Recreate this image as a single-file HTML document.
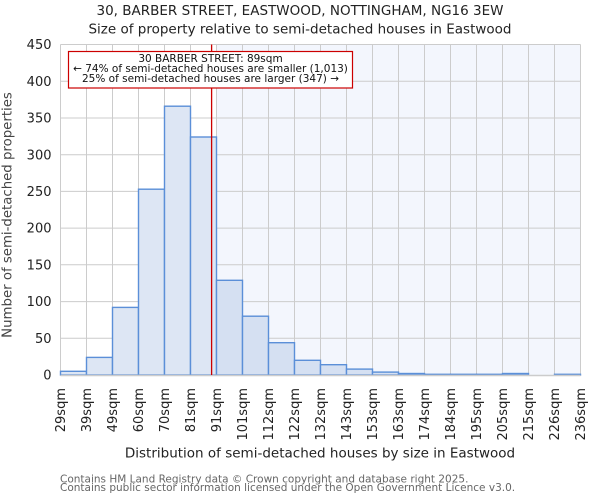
<!DOCTYPE html>
<html>
<head>
<meta charset="utf-8">
<style>
html,body{margin:0;padding:0;background:#fff;}
svg{display:block;}
text{font-family:"DejaVu Sans","Liberation Sans",sans-serif;}
</style>
</head>
<body>
<svg width="600" height="500" viewBox="0 0 600 500" xmlns="http://www.w3.org/2000/svg">
<rect x="0" y="0" width="600" height="500" fill="#ffffff"/>
<!-- shaded region -->
<rect x="216.5" y="44.5" width="364" height="330.5" fill="#f3f6fd"/>
<!-- grid -->
<g stroke="#cccccc" stroke-width="1">
<line x1="60.5" y1="338.3" x2="580.5" y2="338.3"/>
<line x1="60.5" y1="301.6" x2="580.5" y2="301.6"/>
<line x1="60.5" y1="264.8" x2="580.5" y2="264.8"/>
<line x1="60.5" y1="228.1" x2="580.5" y2="228.1"/>
<line x1="60.5" y1="191.4" x2="580.5" y2="191.4"/>
<line x1="60.5" y1="154.7" x2="580.5" y2="154.7"/>
<line x1="60.5" y1="118.0" x2="580.5" y2="118.0"/>
<line x1="60.5" y1="81.2" x2="580.5" y2="81.2"/>
<line x1="60.5" y1="44.5" x2="580.5" y2="44.5"/>
<line x1="60.5" y1="44.5" x2="60.5" y2="375"/>
<line x1="86.5" y1="44.5" x2="86.5" y2="375"/>
<line x1="112.5" y1="44.5" x2="112.5" y2="375"/>
<line x1="138.5" y1="44.5" x2="138.5" y2="375"/>
<line x1="164.5" y1="44.5" x2="164.5" y2="375"/>
<line x1="190.5" y1="44.5" x2="190.5" y2="375"/>
<line x1="216.5" y1="44.5" x2="216.5" y2="375"/>
<line x1="242.5" y1="44.5" x2="242.5" y2="375"/>
<line x1="268.5" y1="44.5" x2="268.5" y2="375"/>
<line x1="294.5" y1="44.5" x2="294.5" y2="375"/>
<line x1="320.5" y1="44.5" x2="320.5" y2="375"/>
<line x1="346.5" y1="44.5" x2="346.5" y2="375"/>
<line x1="372.5" y1="44.5" x2="372.5" y2="375"/>
<line x1="398.5" y1="44.5" x2="398.5" y2="375"/>
<line x1="424.5" y1="44.5" x2="424.5" y2="375"/>
<line x1="450.5" y1="44.5" x2="450.5" y2="375"/>
<line x1="476.5" y1="44.5" x2="476.5" y2="375"/>
<line x1="502.5" y1="44.5" x2="502.5" y2="375"/>
<line x1="528.5" y1="44.5" x2="528.5" y2="375"/>
<line x1="554.5" y1="44.5" x2="554.5" y2="375"/>
<line x1="580.5" y1="44.5" x2="580.5" y2="375"/>
</g>
<!-- bars -->
<g stroke="#5b8fd8" stroke-width="1.4">
<rect x="60.5" y="371.3" width="26" height="3.7" fill="#dde6f4"/>
<rect x="86.5" y="357.4" width="26" height="17.6" fill="#dde6f4"/>
<rect x="112.5" y="307.4" width="26" height="67.6" fill="#dde6f4"/>
<rect x="138.5" y="189.2" width="26" height="185.8" fill="#dde6f4"/>
<rect x="164.5" y="106.2" width="26" height="268.8" fill="#dde6f4"/>
<rect x="190.5" y="137.0" width="26" height="238.0" fill="#dde6f4"/>
<rect x="216.5" y="280.3" width="26" height="94.7" fill="#d5e0f2"/>
<rect x="242.5" y="316.2" width="26" height="58.8" fill="#d5e0f2"/>
<rect x="268.5" y="342.7" width="26" height="32.3" fill="#d5e0f2"/>
<rect x="294.5" y="360.3" width="26" height="14.7" fill="#d5e0f2"/>
<rect x="320.5" y="364.7" width="26" height="10.3" fill="#d5e0f2"/>
<rect x="346.5" y="369.1" width="26" height="5.9" fill="#d5e0f2"/>
<rect x="372.5" y="372.1" width="26" height="2.9" fill="#d5e0f2"/>
<rect x="398.5" y="373.5" width="26" height="1.5" fill="#d5e0f2"/>
<rect x="424.5" y="374.3" width="26" height="0.7" fill="#d5e0f2"/>
<rect x="450.5" y="374.3" width="26" height="0.7" fill="#d5e0f2"/>
<rect x="476.5" y="374.3" width="26" height="0.7" fill="#d5e0f2"/>
<rect x="502.5" y="373.5" width="26" height="1.5" fill="#d5e0f2"/>
<rect x="554.5" y="374.3" width="26" height="0.7" fill="#d5e0f2"/>
</g>
<!-- bottom axis -->
<line x1="60.5" y1="375.5" x2="580.5" y2="375.5" stroke="#cccccc" stroke-width="1.5"/>
<!-- red marker line -->
<line x1="211.6" y1="44.5" x2="211.6" y2="375" stroke="#cc0000" stroke-width="1.3"/>
<!-- annotation -->
<rect x="68.5" y="51.5" width="284" height="36.5" fill="#ffffff" stroke="#cc0000" stroke-width="1.2"/>
<g font-size="10.5" fill="#111" text-anchor="middle">
<text x="210.5" y="62">30 BARBER STREET: 89sqm</text>
<text x="210.5" y="72">← 74% of semi-detached houses are smaller (1,013)</text>
<text x="210.5" y="82">25% of semi-detached houses are larger (347) →</text>
</g>
<!-- y tick labels -->
<g font-size="13" fill="#222" text-anchor="end">
<text x="51.5" y="379.6">0</text>
<text x="51.5" y="342.9">50</text>
<text x="51.5" y="306.2">100</text>
<text x="51.5" y="269.4">150</text>
<text x="51.5" y="232.7">200</text>
<text x="51.5" y="196.0">250</text>
<text x="51.5" y="159.3">300</text>
<text x="51.5" y="122.6">350</text>
<text x="51.5" y="85.8">400</text>
<text x="51.5" y="49.1">450</text>
</g>
<!-- x tick labels -->
<g font-size="13" fill="#222" text-anchor="end">
<text transform="translate(60.5,388) rotate(-90)" dy="0.36em">29sqm</text>
<text transform="translate(86.5,388) rotate(-90)" dy="0.36em">39sqm</text>
<text transform="translate(112.5,388) rotate(-90)" dy="0.36em">49sqm</text>
<text transform="translate(138.5,388) rotate(-90)" dy="0.36em">60sqm</text>
<text transform="translate(164.5,388) rotate(-90)" dy="0.36em">70sqm</text>
<text transform="translate(190.5,388) rotate(-90)" dy="0.36em">81sqm</text>
<text transform="translate(216.5,388) rotate(-90)" dy="0.36em">91sqm</text>
<text transform="translate(242.5,388) rotate(-90)" dy="0.36em">101sqm</text>
<text transform="translate(268.5,388) rotate(-90)" dy="0.36em">112sqm</text>
<text transform="translate(294.5,388) rotate(-90)" dy="0.36em">122sqm</text>
<text transform="translate(320.5,388) rotate(-90)" dy="0.36em">132sqm</text>
<text transform="translate(346.5,388) rotate(-90)" dy="0.36em">143sqm</text>
<text transform="translate(372.5,388) rotate(-90)" dy="0.36em">153sqm</text>
<text transform="translate(398.5,388) rotate(-90)" dy="0.36em">163sqm</text>
<text transform="translate(424.5,388) rotate(-90)" dy="0.36em">174sqm</text>
<text transform="translate(450.5,388) rotate(-90)" dy="0.36em">184sqm</text>
<text transform="translate(476.5,388) rotate(-90)" dy="0.36em">195sqm</text>
<text transform="translate(502.5,388) rotate(-90)" dy="0.36em">205sqm</text>
<text transform="translate(528.5,388) rotate(-90)" dy="0.36em">215sqm</text>
<text transform="translate(554.5,388) rotate(-90)" dy="0.36em">226sqm</text>
<text transform="translate(580.5,388) rotate(-90)" dy="0.36em">236sqm</text>
</g>
<!-- axis labels -->
<text transform="translate(11.5,215) rotate(-90)" font-size="13.3" fill="#444" text-anchor="middle">Number of semi-detached properties</text>
<text x="320" y="457.5" font-size="13.5" fill="#222" text-anchor="middle">Distribution of semi-detached houses by size in Eastwood</text>
<!-- title -->
<text x="300" y="15" font-size="13.5" fill="#222" text-anchor="middle">30, BARBER STREET, EASTWOOD, NOTTINGHAM, NG16 3EW</text>
<text x="300" y="33.5" font-size="13.5" fill="#222" text-anchor="middle">Size of property relative to semi-detached houses in Eastwood</text>
<!-- footer -->
<g font-size="10.5" fill="#666">
<text x="60" y="482.5">Contains HM Land Registry data © Crown copyright and database right 2025.</text>
<text x="60" y="491">Contains public sector information licensed under the Open Government Licence v3.0.</text>
</g>
</svg>
</body>
</html>
